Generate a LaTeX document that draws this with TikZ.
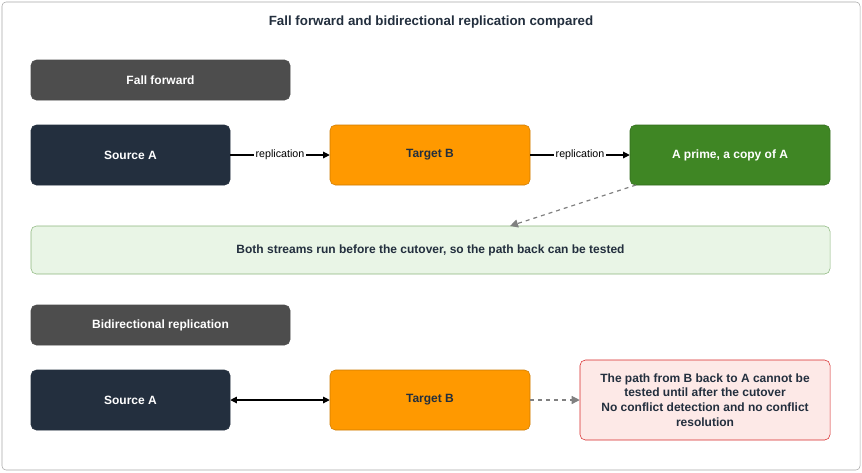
\documentclass[tikz,border=0pt]{standalone}
\usepackage{fontspec}
\setmainfont{Liberation Sans}
\usetikzlibrary{arrows.meta}
\definecolor{navy}{HTML}{232F3E}
\definecolor{orng}{HTML}{FF9900}
\definecolor{grn}{HTML}{3F8624}
\definecolor{hdr}{HTML}{4D4D4D}
\definecolor{lgrn}{HTML}{E9F5E6}
\definecolor{lred}{HTML}{FDE9E7}
\definecolor{rd}{HTML}{D62728}
\begin{document}
\begin{tikzpicture}[x=0.75pt,y=-0.75pt,
  box/.style={rounded corners=4pt,font=\bfseries\fontsize{9}{11}\selectfont,align=center},
  hdrbox/.style={box,fill=hdr,draw=black!70,text=white},
  dark/.style={box,fill=navy,draw=navy,text=white},
  org/.style={box,fill=orng,draw=orng!80!black,text=navy},
  gr/.style={box,fill=grn,draw=grn!80!black,text=white},
  arr/.style={-{Triangle[length=5pt,width=5pt]},line width=0.8pt},
  dsh/.style={-{Triangle[length=6pt,width=6pt]},draw=gray,dashed,line width=0.9pt},
  lab/.style={fill=white,inner sep=1pt,font=\fontsize{8}{10}\selectfont}]
\useasboundingbox (0,0) rectangle (862,472);
\draw[gray!70,rounded corners=3pt] (2,2) rectangle (860,470);
\node[font=\bfseries\fontsize{10}{12}\selectfont,text=navy] (t) at (431,22) {Fall forward and bidirectional replication compared};
\node[hdrbox,minimum width=259*0.75pt,minimum height=40*0.75pt] (h1) at (160.5,80) {Fall forward};
\node[dark,minimum width=199*0.75pt,minimum height=60*0.75pt] (sa) at (130.5,155) {Source A};
\node[org,minimum width=200*0.75pt,minimum height=60*0.75pt] (tb) at (430,155) {Target B};
\node[gr,minimum width=200*0.75pt,minimum height=60*0.75pt] (ap) at (730,155) {A prime, a copy of A};
\draw[arr] (sa) -- node[lab]{replication} (tb);
\draw[arr] (tb) -- node[lab]{replication} (ap);
\node[box,fill=lgrn,draw=grn!60,text=navy,minimum width=799*0.75pt,minimum height=48*0.75pt] (n1) at (430.5,250) {Both streams run before the cutover, so the path back can be tested};
\coordinate (d0) at (636,185);
\coordinate (d1) at (510,226);
\draw[dsh] (d0) -- (d1);
\node[hdrbox,minimum width=259*0.75pt,minimum height=40*0.75pt] (h2) at (160.5,325) {Bidirectional replication};
\node[dark,minimum width=199*0.75pt,minimum height=60*0.75pt] (sa2) at (130.5,400) {Source A};
\node[org,minimum width=200*0.75pt,minimum height=60*0.75pt] (tb2) at (430,400) {Target B};
\node[box,fill=lred,draw=rd,text=navy,minimum width=250*0.75pt,minimum height=80*0.75pt] (n2) at (705,400) {The path from B back to A cannot be\\tested until after the cutover\\No conflict detection and no conflict\\resolution};
\draw[line width=0.8pt,{Triangle[length=5pt,width=5pt]}-{Triangle[length=5pt,width=5pt]}] (sa2) -- (tb2);
\draw[dsh] (tb2) -- (n2);
\end{tikzpicture}
\end{document}
